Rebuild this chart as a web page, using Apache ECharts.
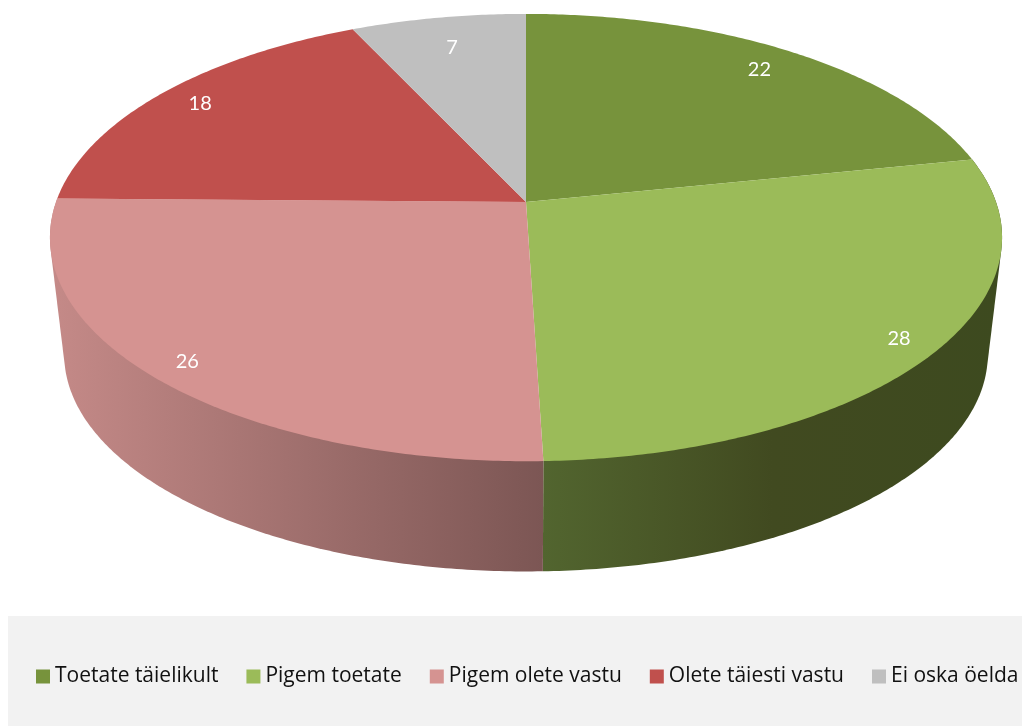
<!DOCTYPE html>
<html>
<head>
<meta charset="utf-8">
<title>Toetus</title>
<script src="https://cdn.jsdelivr.net/npm/echarts@6/dist/echarts.min.js"></script>
<style>
  html, body { margin: 0; padding: 0; background: #fff; }
  #chart { width: 1022px; height: 726px; }
</style>
</head>
<body>
<div id="chart"></div>
<script>
const categories = ['Toetate täielikult', 'Pigem toetate', 'Pigem olete vastu', 'Olete täiesti vastu', 'Ei oska öelda']
const values = [22, 28, 26, 18, 7]
const colors = ['#77933c', '#9bbb59', '#d59391', '#c0504d', '#bfbfbf']
const wallStops = [
  null,
  [[0, '#52652f'], [0.5, '#414a20'], [1, '#3d4a1f']],
  [[0, '#c58a88'], [1, '#7c5654']],
  null,
  null
]

// pie is a flat disc seen in perspective, so the apex sits above the ellipse centre
const CX = 526
const RX = 470
const RY = 218
const TILT = 0.159
const TOP_Y = 202
const BOTTOM_Y = 320
const BOTTOM_SCALE = 0.97
const LABEL_RADIUS = [0.87, 0.92, 0.92, 0.89, 0.82]

const total = values.reduce((a, b) => a + b, 0)
const startAngles = values.map((_, i) =>
  values.slice(0, i).reduce((a, b) => a + b, 0) / total * Math.PI * 2)

const project = (angle, r, apexY, scale) => {
  const x = r * Math.sin(angle)
  const y = -r * Math.cos(angle)
  const w = 1 - TILT * y
  return [CX + RX * scale * x / w, apexY + RY * scale * y / w]
}

const arcPoints = (from, to, apexY, scale) => {
  const steps = Math.max(2, Math.ceil((to - from) / 0.01))
  return Array.from({ length: steps + 1 }, (_, i) =>
    project(from + (to - from) * i / steps, 1, apexY, scale))
}

// monotone chain, the side wall is the hull of the top and bottom rims
const convexHull = (points) => {
  const pts = points.slice().sort((a, b) => a[0] - b[0] || a[1] - b[1])
  const cross = (o, a, b) => (a[0] - o[0]) * (b[1] - o[1]) - (a[1] - o[1]) * (b[0] - o[0])
  const half = (list) => {
    const out = []
    list.forEach((p) => {
      while (out.length >= 2 && cross(out[out.length - 2], out[out.length - 1], p) <= 0) out.pop()
      out.push(p)
    })
    out.pop()
    return out
  }
  return half(pts).concat(half(pts.slice().reverse()))
}

const renderSlice = (i) => () => {
  const from = startAngles[i]
  const to = from + values[i] / total * Math.PI * 2
  const mid = (from + to) / 2
  const children = []

  if (wallStops[i]) {
    const rims = arcPoints(from, to, TOP_Y, 1).concat(arcPoints(from, to, BOTTOM_Y, BOTTOM_SCALE))
    children.push({
      type: 'polygon',
      z2: 0,
      shape: { points: convexHull(rims) },
      style: {
        fill: new echarts.graphic.LinearGradient(
          0, 0, 1, 0,
          wallStops[i].map(([offset, color]) => ({ offset, color }))
        )
      }
    })
  }

  children.push({
    type: 'polygon',
    z2: 1,
    shape: { points: [[CX, TOP_Y]].concat(arcPoints(from, to, TOP_Y, 1)) },
    style: { fill: colors[i] }
  })

  const labelPos = project(mid, LABEL_RADIUS[i], TOP_Y, 1)
  children.push({
    type: 'text',
    z2: 2,
    x: labelPos[0],
    y: labelPos[1],
    style: {
      text: String(values[i]),
      fill: '#ffffff',
      font: '20px Lato',
      align: 'center',
      verticalAlign: 'middle'
    }
  })

  return { type: 'group', children }
}

const chart = echarts.init(document.getElementById('chart'))

chart.setOption({
  animation: false,
  graphic: [
    {
      type: 'rect',
      z: -1,
      shape: { x: 8, y: 616, width: 1014, height: 110 },
      style: { fill: '#f2f2f2' }
    }
  ],
  legend: {
    data: categories,
    left: 36,
    top: 666,
    padding: 0,
    itemGap: 28,
    itemWidth: 14,
    itemHeight: 14,
    icon: 'rect',
    textStyle: {
      color: '#111111',
      fontSize: 21,
      fontFamily: '"Open Sans"'
    }
  },
  series: categories.map((name, i) => ({
    type: 'custom',
    name,
    coordinateSystem: 'none',
    data: [values[i]],
    itemStyle: { color: colors[i] },
    silent: true,
    renderItem: renderSlice(i)
  }))
})

window.addEventListener('resize', () => chart.resize())
</script>
</body>
</html>
